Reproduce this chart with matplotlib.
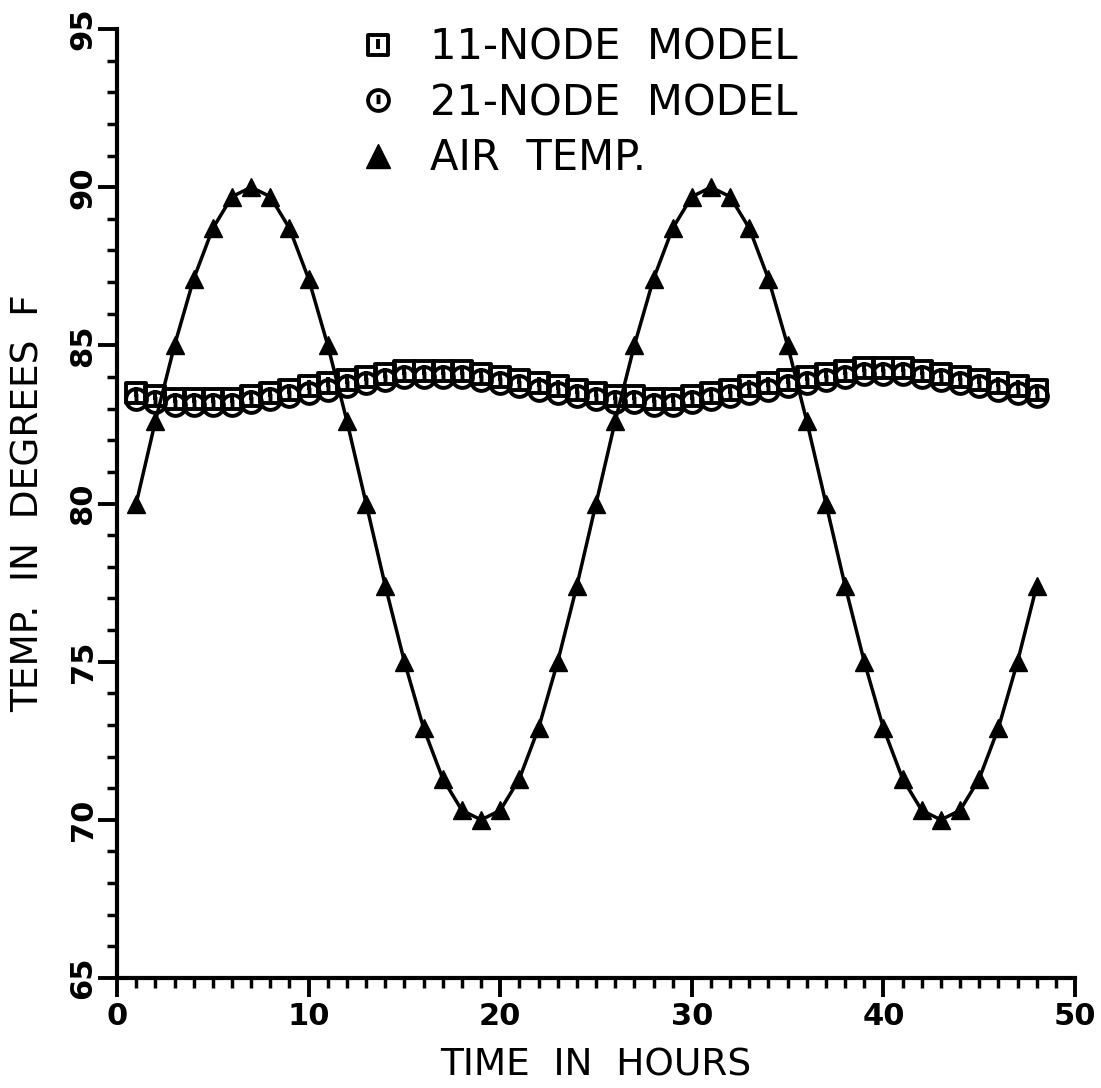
import numpy as np
import matplotlib
matplotlib.use("Agg")
import matplotlib.pyplot as plt
from matplotlib.path import Path
from matplotlib.lines import Line2D

# データ
hours = list(range(1, 49))
air_temp = [80.0, 82.6, 85.0, 87.1, 88.7, 89.7, 90.0, 89.7, 88.7, 87.1, 85.0, 82.6,
            80.0, 77.4, 75.0, 72.9, 71.3, 70.3, 70.0, 70.3, 71.3, 72.9, 75.0, 77.4,
            80.0, 82.6, 85.0, 87.1, 88.7, 89.7, 90.0, 89.7, 88.7, 87.1, 85.0, 82.6,
            80.0, 77.4, 75.0, 72.9, 71.3, 70.3, 70.0, 70.3, 71.3, 72.9, 75.0, 77.4]
node11 = [83.5, 83.4, 83.3, 83.3, 83.3, 83.3, 83.4, 83.5, 83.6, 83.7, 83.8, 83.9,
          84.0, 84.1, 84.2, 84.2, 84.2, 84.2, 84.1, 84.0, 83.9, 83.8, 83.7, 83.6,
          83.5, 83.4, 83.4, 83.3, 83.3, 83.4, 83.5, 83.6, 83.7, 83.8, 83.9, 84.0,
          84.1, 84.2, 84.3, 84.3, 84.3, 84.2, 84.1, 84.0, 83.9, 83.8, 83.7, 83.6]
node21 = [83.3, 83.2, 83.1, 83.1, 83.1, 83.1, 83.2, 83.3, 83.4, 83.5, 83.6, 83.7,
          83.8, 83.9, 84.0, 84.0, 84.0, 84.0, 83.9, 83.8, 83.7, 83.6, 83.5, 83.4,
          83.3, 83.2, 83.2, 83.1, 83.1, 83.2, 83.3, 83.4, 83.5, 83.6, 83.7, 83.8,
          83.9, 84.0, 84.1, 84.1, 84.1, 84.0, 83.9, 83.8, 83.7, 83.6, 83.5, 83.4]

labels = ["11-NODE  MODEL", "21-NODE  MODEL", "AIR  TEMP."]

# マーカー（中に縦線のある四角と丸）
bar = Path([(0, -0.35), (0, 0.55)], [Path.MOVETO, Path.LINETO])
sq_path = Path([(-1, -1), (1, -1), (1, 1), (-1, 1), (-1, -1)],
               [Path.MOVETO, Path.LINETO, Path.LINETO, Path.LINETO, Path.CLOSEPOLY])
sq_marker = Path.make_compound_path(sq_path, bar)
ci_marker = Path.make_compound_path(Path.unit_circle(), bar)

mk = dict(linestyle="none", markersize=15, markerfacecolor="none",
          markeredgecolor="black", markeredgewidth=2.8)

fig = plt.figure(figsize=(11.01, 10.88), dpi=100)
ax = fig.add_axes([0.1063, 0.1011, 0.8701, 0.8722])

ax.plot(hours, node11, marker=sq_marker, **mk)
ax.plot(hours, node21, marker=ci_marker, **mk)
ax.plot(hours, air_temp, color="black", linewidth=2.5, marker="^", markersize=13,
        markerfacecolor="black", markeredgecolor="black")

ax.set_xlim(0, 50)
ax.set_ylim(65, 95)
ax.set_xticks(np.arange(0, 51, 10))
ax.set_xticks(np.arange(0, 51, 1), minor=True)
ax.set_yticks(np.arange(65, 96, 5))
ax.set_yticks(np.arange(65, 96, 1), minor=True)

for s in ["top", "right"]:
    ax.spines[s].set_visible(False)
for s in ["left", "bottom"]:
    ax.spines[s].set_linewidth(3)

ax.tick_params(which="major", length=14, width=2.8, labelsize=22)
ax.tick_params(which="minor", length=7, width=2.5)
ax.tick_params(axis="x", pad=3)
ax.tick_params(axis="y", labelrotation=90, pad=0)
for lab in ax.get_yticklabels():
    lab.set_va("center")
    lab.set_fontweight("bold")
for lab in ax.get_xticklabels():
    lab.set_fontweight("bold")

ax.set_xlabel("TIME  IN  HOURS", fontsize=27, labelpad=12)
ax.set_ylabel("TEMP.  IN  DEGREES  F", fontsize=27, labelpad=16)

handles = [
    Line2D([], [], marker=sq_marker, **mk),
    Line2D([], [], marker=ci_marker, **mk),
    Line2D([], [], linestyle="none", marker="^", markersize=17,
           markerfacecolor="black", markeredgecolor="black"),
]
ax.legend(handles, labels, loc="upper left", bbox_to_anchor=(0.238, 1.02),
          frameon=False, fontsize=30, handlelength=0.8, handletextpad=0.85,
          labelspacing=0.32, borderaxespad=0)

fig.savefig("out.png", dpi=100)
